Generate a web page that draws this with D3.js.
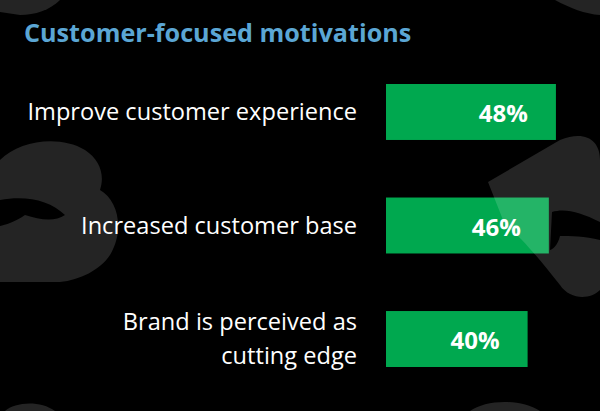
<!DOCTYPE html>
<html>
<head>
    <meta charset="utf-8">
    <script src="https://d3js.org/d3.v7.min.js"></script>
    <style type="text/css">
        body { margin: 0; background: #000; }
        .title { font-family: "Open Sans", sans-serif; font-size: 25.2px; font-weight: bold; fill: #5ba6d4; }
        .cat { font-family: "Open Sans", sans-serif; font-size: 23.6px; fill: #fff; }
        .val { font-family: "Open Sans", sans-serif; font-size: 24px; font-weight: bold; fill: #fff; }
    </style>
</head>
<body>
<div id="chart"></div>
<script>
    // data
    const categories = ["Improve customer experience", "Increased customer base", "Brand is perceived as|cutting edge"];
    const values = [48, 46, 40];
    const valueLabels = ["48%", "46%", "40%"];

    const width = 600, height = 411;

    const svg = d3.select("#chart")
        .append("svg")
        .attr("width", width)
        .attr("height", height);

    svg.append("rect").attr("width", width).attr("height", height).attr("fill", "#000");

    // faint watermark shapes (behind text)
    const wm = svg.append("g").attr("fill", "#fff").attr("fill-opacity", 0.14);
    wm.append("path").attr("d", "M0,160 C20,140 60,135 85,150 C100,160 105,175 100,190 C118,200 125,230 110,255 C100,270 80,280 60,282 L0,282 Z");
    wm.append("path").attr("d", "M0,0 L60,0 C50,10 35,15 20,15 L0,12 Z");
    wm.append("path").attr("d", "M555,0 L600,0 L600,15 C585,14 570,8 555,0 Z");
    wm.append("path").attr("d", "M5,411 C15,402 40,400 55,411 Z");
    wm.append("path").attr("d", "M470,411 C485,400 520,398 540,411 Z");
    svg.append("path").attr("fill", "#000")
        .attr("d", "M0,200 C25,195 50,200 65,215 C55,222 40,220 25,215 C15,222 5,225 0,226 Z");

    // x: percent -> px, bars start at 386
    const x = d3.scaleLinear().domain([0, 100]).range([386, 740]);
    const y = d3.scaleBand()
        .domain(categories)
        .range([84, 367])
        .paddingInner(0.507)
        .paddingOuter(0);

    svg.append("text")
        .attr("class", "title")
        .attr("x", 24)
        .attr("y", 42)
        .text("Customer-focused motivations");

    svg.selectAll(".bar")
        .data(values)
        .join("rect")
        .attr("class", "bar")
        .attr("x", x(0))
        .attr("y", (d, i) => y(categories[i]))
        .attr("width", d => x(d) - x(0))
        .attr("height", y.bandwidth())
        .attr("fill", "#00a84f");

    // right watermark sits over the bar
    svg.append("path").attr("fill", "#fff").attr("fill-opacity", 0.14)
        .attr("d", "M488,182 L560,140 C585,130 600,140 600,160 L600,290 C590,300 570,300 560,285 C540,260 520,235 505,225 Z");
    svg.append("path").attr("fill", "#000")
        .attr("d", "M552,212 C565,208 580,212 600,222 L600,240 C585,236 570,236 560,236 C558,245 552,250 550,250 Z");

    svg.selectAll(".val")
        .data(values)
        .join("text")
        .attr("class", "val")
        .attr("text-anchor", "end")
        .attr("x", d => x(d) - 28)
        .attr("y", (d, i) => y(categories[i]) + y.bandwidth() / 2 + 10)
        .text((d, i) => valueLabels[i]);

    // category labels, "|" splits lines
    categories.forEach(function (c, i) {
        const lines = c.split("|");
        const cy = y(c) + y.bandwidth() / 2;
        const t = svg.append("text")
            .attr("class", "cat")
            .attr("text-anchor", "end")
            .attr("x", 357)
            .attr("y", cy + 8 - (lines.length - 1) * 17);
        lines.forEach(function (l, j) {
            t.append("tspan")
                .attr("x", 357)
                .attr("dy", j === 0 ? 0 : 34)
                .text(l);
        });
    });
</script>
</body>
</html>
